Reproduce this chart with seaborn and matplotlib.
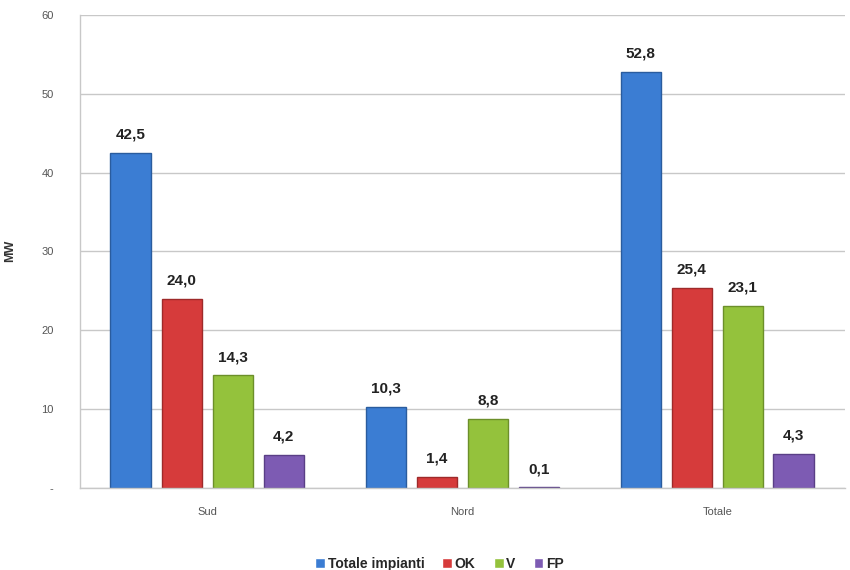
import matplotlib
matplotlib.use("Agg")
import matplotlib.pyplot as plt
import seaborn as sns
import pandas as pd
from matplotlib.ticker import FixedLocator, FixedFormatter

# Installed capacity by area (MW)
areas = ["Sud", "Nord", "Totale"]
series = ["Totale impianti", "OK", "V", "FP"]
totale_impianti = [42.5, 10.3, 52.8]
ok = [24.0, 1.4, 25.4]
v = [14.3, 8.8, 23.1]
fp = [4.2, 0.1, 4.3]
y_ticks = [0, 10, 20, 30, 40, 50, 60]
y_tick_labels = ["-", "10", "20", "30", "40", "50", "60"]

colors = ["#3B7DD3", "#D63B3B", "#94C23C", "#7D5BB3"]
edges = ["#2A5C9E", "#9E2A2A", "#6C8F2A", "#5A3F86"]

rows = []
for name, vals in zip(series, [totale_impianti, ok, v, fp]):
    for a, val in zip(areas, vals):
        rows.append({"area": a, "serie": name, "mw": val})
df = pd.DataFrame(rows)

sns.set_style("white")
plt.rcParams["font.family"] = ["Liberation Sans", "DejaVu Sans"]

fig = plt.figure(figsize=(8.5, 5.7), dpi=100)
ax = fig.add_axes([0.094, 0.144, 0.9, 0.83])

sns.barplot(data=df, x="area", y="mw", hue="serie", order=areas,
            hue_order=series, palette=colors, width=0.8, gap=0.2,
            ax=ax, legend=True, saturation=1)

for cont, ec in zip(ax.containers, edges):
    for bar in cont:
        bar.set_edgecolor(ec)
        bar.set_linewidth(1.0)
    ax.bar_label(cont, labels=[f"{b.get_height():.1f}".replace(".", ",") for b in cont],
                 padding=8, fontsize=11, fontweight="bold", color="#222222")

ax.set_ylim(0, 60)
ax.set_xlim(-0.5, 2.5)
ax.yaxis.set_major_locator(FixedLocator(y_ticks))
ax.yaxis.set_major_formatter(FixedFormatter(y_tick_labels))
ax.grid(axis="y", color="#c8c8c8", linewidth=1)
ax.set_axisbelow(True)

ax.set_xlabel("")
ax.set_ylabel("MW", fontsize=9, fontweight="bold", color="#333333", labelpad=18)
ax.tick_params(axis="y", labelsize=8, colors="#555555", length=5, color="#c8c8c8", pad=14)
ax.tick_params(axis="x", labelsize=8, colors="#555555", length=0, pad=14)
ax.set_xticks([0.5, 1.5], minor=True)
ax.tick_params(axis="x", which="minor", length=5, color="#c8c8c8")

for s in ["top", "right"]:
    ax.spines[s].set_visible(False)
for s in ["left", "bottom"]:
    ax.spines[s].set_color("#c8c8c8")
    ax.spines[s].set_linewidth(1)

handles, labels = ax.get_legend_handles_labels()
ax.legend(handles, labels, loc="upper center", bbox_to_anchor=(0.47, -0.12),
          ncol=4, frameon=False, handlelength=0.7, handleheight=0.7,
          handletextpad=0.2, columnspacing=1.3,
          prop={"weight": "bold", "size": 10})

fig.savefig("out.png", dpi=100)
